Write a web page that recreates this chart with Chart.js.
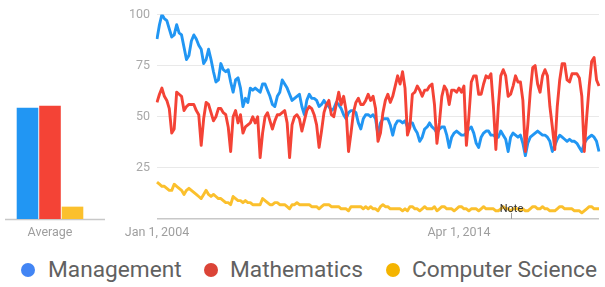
<!DOCTYPE html>
<html>
<head>
<meta charset="utf-8">
<script src="https://cdn.jsdelivr.net/npm/chart.js@4.4.1/dist/chart.umd.min.js"></script>
<style>
  html, body { margin:0; padding:0; background:#fff; }
  body { width:605px; height:287px; position:relative; overflow:hidden; font-family: Roboto, "Noto Sans", sans-serif; }
  #barWrap { position:absolute; left:0; top:0; }
  #lineWrap { position:absolute; left:110px; top:0; }
  .dot { position:absolute; width:14px; height:14px; border-radius:50%; top:263px; }
  .lt { position:absolute; top:259px; font-size:22.7px; line-height:22px; color:#616161; white-space:nowrap; }
</style>
</head>
<body>
<div id="barWrap"><canvas id="bar" width="110" height="245"></canvas></div>
<div id="lineWrap"><canvas id="line" width="495" height="245"></canvas></div>
<div id="legend"></div>
<script>
// ---------------- DATA ----------------
const seriesNames = ['Management', 'Mathematics', 'Computer Science'];
const startYear = 2004;
const monthCount = 181;

const management = [
  88,95,100,98,97,93,89,90,95,91,
  90,84,78,80,87,90,88,85,83,76,
  78,83,78,72,67,68,76,73,72,73,
  67,62,68,69,64,55,59,57,64,63,
  64,63,62,66,66,63,60,56,55,60,
  62,68,66,64,61,58,59,60,61,55,
  51,58,61,59,59,58,55,56,58,56,
  55,53,54,57,56,54,51,49,52,53,
  53,52,47,44,49,51,51,50,51,49,
  41,47,49,49,49,46,41,46,48,48,
  47,48,45,47,47,44,42,38,40,44,
  45,47,45,44,42,44,45,45,41,35,
  40,42,43,42,41,41,42,44,45,42,
  37,35,40,42,43,43,41,41,40,40,
  43,41,39,33,40,42,41,40,41,37,
  31,37,40,41,42,43,42,41,41,40,
  38,33,36,39,41,40,39,38,39,38,
  38,37,35,33,37,39,40,41,40,38,33
];
const mathematics = [
  57,61,64,60,58,54,42,44,62,61,
  60,53,55,56,56,56,53,51,36,49,
  57,56,52,48,50,54,54,52,51,45,
  33,50,53,47,51,42,45,46,47,50,
  47,50,30,42,50,52,48,44,48,51,
  51,52,53,47,30,46,50,51,49,43,
  48,53,55,54,51,46,35,43,52,56,
  58,51,50,56,62,56,60,53,33,42,
  52,57,59,56,56,58,61,58,60,54,
  38,42,52,58,61,57,60,65,70,66,
  72,64,41,45,61,62,65,63,60,63,
  63,65,66,56,37,47,60,65,63,56,
  63,63,62,64,62,65,36,50,67,70,
  70,61,61,66,70,69,71,55,34,55,
  70,73,70,60,61,65,70,67,67,58,
  33,46,62,74,75,66,62,70,73,70,
  55,45,34,55,68,76,76,68,67,71,
  71,71,69,60,33,50,65,77,79,68,65
];
const computerScience = [
  18,17,16,16,15,14,14,17,16,15,
  14,12,14,15,14,13,12,11,10,12,
  14,12,11,12,11,10,10,9,8,8,
  7,11,10,9,9,8,9,8,8,7,
  7,7,7,10,9,8,7,7,8,8,
  7,7,7,6,5,7,7,8,7,7,
  7,7,7,6,6,6,5,6,7,7,
  7,6,6,6,6,5,5,5,4,6,
  6,6,6,6,5,6,5,6,5,5,
  4,6,7,6,6,5,5,5,5,5,
  4,5,4,6,6,5,5,4,5,6,
  5,5,5,6,4,5,6,6,5,5,
  5,4,5,6,6,5,5,4,5,5,
  5,4,5,6,5,5,5,5,4,4,
  5,6,5,5,4,5,5,5,4,5,
  4,4,5,6,6,5,5,6,5,5,
  4,4,4,5,6,6,5,5,5,5,
  4,4,4,3,4,5,6,6,5,5,5
];
const averages = [54, 55, 6];
const averageLabel = ['Average'];

const tickIndex = [0, 123];
const tickText = ['Jan 1, 2004', 'Apr 1, 2014'];
const noteIndex = 144;
const noteText = 'Note';

const monthNames = ['Jan','Feb','Mar','Apr','May','Jun','Jul','Aug','Sep','Oct','Nov','Dec'];
const months = [];
for (let i = 0; i < monthCount; i++) {
  months.push(monthNames[i % 12] + ' ' + (startYear + Math.floor(i / 12)));
}

// ---------------- STYLE ----------------
const lineColors = ['#2196f3', '#f44336', '#fbc02d'];
const barColors  = ['#2196f3', '#f44336', '#fbc02d'];
const dotColors  = ['#4285f4', '#db4437', '#f4b400'];
Chart.defaults.font.family = 'Roboto, "Noto Sans", sans-serif';
Chart.defaults.animation = false;

// ---------------- BAR (Average) ----------------
const baselinePlugin = {
  id: 'baseline',
  beforeDatasetsDraw(chart) {
    const y = Math.round(chart.scales.y.getPixelForValue(0)) + 0.5;
    const ctx = chart.ctx;
    ctx.save();
    ctx.strokeStyle = '#c8c8c8';
    ctx.lineWidth = 1.5;
    ctx.beginPath();
    ctx.moveTo(chart.chartArea.left, y);
    ctx.lineTo(chart.chartArea.right + 10, y);
    ctx.stroke();
    ctx.restore();
  }
};
new Chart(document.getElementById('bar'), {
  type: 'bar',
  data: {
    labels: averageLabel,
    datasets: seriesNames.map((n, k) => ({
      label: n,
      data: [averages[k]],
      backgroundColor: barColors[k],
      barPercentage: 0.96,
      categoryPercentage: 0.75
    }))
  },
  options: {
    responsive: false,
    layout: { padding: { top: 13, left: 5, right: 15, bottom: 0 } },
    plugins: { legend: { display: false }, tooltip: { enabled: false } },
    scales: {
      y: { display: false, min: 0, max: 100 },
      x: {
        grid: { display: false, drawTicks: false },
        border: { display: false },
        ticks: { color: '#9e9e9e', font: { size: 12.5 }, padding: 6 },
        afterFit(s) { s.height = 26; }
      }
    }
  },
  plugins: [baselinePlugin]
});

// ---------------- LINE ----------------
const notePlugin = {
  id: 'note',
  afterDatasetsDraw(chart) {
    const x = Math.round(chart.scales.x.getPixelForValue(noteIndex)) + 0.5;
    const yb = chart.scales.y.getPixelForValue(0);
    const ctx = chart.ctx;
    ctx.save();
    ctx.strokeStyle = '#9e9e9e';
    ctx.lineWidth = 1;
    ctx.beginPath();
    ctx.moveTo(x, yb - 6);
    ctx.lineTo(x, yb);
    ctx.stroke();
    ctx.fillStyle = '#333333';
    ctx.font = '11px Roboto, sans-serif';
    ctx.textAlign = 'center';
    ctx.textBaseline = 'alphabetic';
    ctx.fillText(noteText, x, yb - 7);
    ctx.restore();
  }
};
const seriesData = [management, mathematics, computerScience];
const drawOrder = [1, 0, 2];
new Chart(document.getElementById('line'), {
  type: 'line',
  data: {
    labels: months,
    datasets: seriesNames.map((n, k) => ({
      label: n,
      data: seriesData[k],
      borderColor: lineColors[k],
      borderWidth: 2.9,
      pointRadius: 0,
      tension: 0,
      fill: false,
      order: drawOrder[k],
      borderJoinStyle: 'round'
    }))
  },
  options: {
    responsive: false,
    layout: { padding: { top: 13, left: 0, right: 0, bottom: 0 } },
    plugins: { legend: { display: false }, tooltip: { enabled: false } },
    scales: {
      x: {
        offset: false,
        grid: { display: false, drawTicks: false },
        border: { display: false },
        ticks: {
          autoSkip: false, maxRotation: 0, minRotation: 0,
          color: '#9e9e9e', font: { size: 12.5 }, padding: 6,
          callback(value, index) {
            const p = tickIndex.indexOf(index);
            return p >= 0 ? tickText[p] : '';
          }
        },
        afterFit(s) { s.height = 26; }
      },
      y: {
        min: 0, max: 100,
        border: { display: false },
        grid: {
          drawTicks: false,
          color: (c) => c.tick.value === 0 ? '#c8c8c8' : '#e9e9e9',
          lineWidth: (c) => c.tick.value === 0 ? 1.5 : 1
        },
        ticks: {
          stepSize: 25, padding: 7, color: '#a8a8a8', font: { size: 12.5 },
          callback: (v) => v === 0 ? '' : v
        },
        afterFit(s) { s.width = 47; }
      }
    }
  },
  plugins: [notePlugin]
});

// ---------------- LEGEND (HTML) ----------------
const legendDotX = [21, 204, 386];
const legendTextX = [48, 230, 412];
const lg = document.getElementById('legend');
seriesNames.forEach((n, k) => {
  const d = document.createElement('div');
  d.className = 'dot';
  d.style.left = legendDotX[k] + 'px';
  d.style.background = dotColors[k];
  lg.appendChild(d);
  const t = document.createElement('div');
  t.className = 'lt';
  t.style.left = legendTextX[k] + 'px';
  t.textContent = n;
  lg.appendChild(t);
});
</script>
</body>
</html>
